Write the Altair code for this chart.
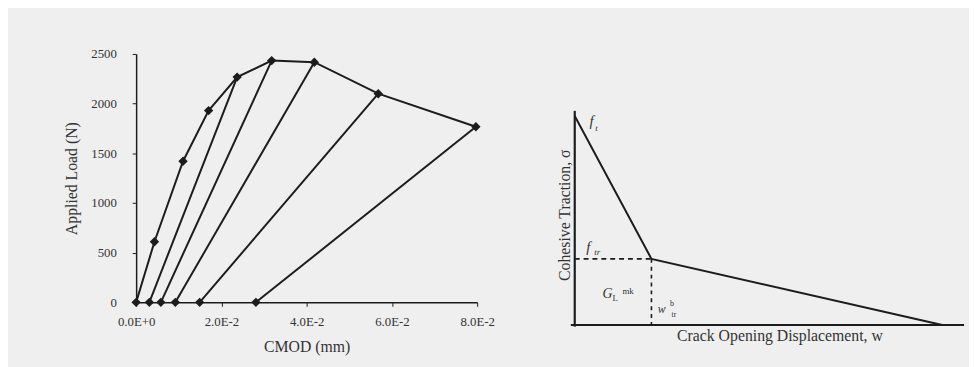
import altair as alt
import pandas as pd

# ---------------- data ----------------
env_cmod = [0.0, 0.0043, 0.011, 0.017, 0.0237, 0.0318, 0.0418, 0.0568, 0.0797]
env_load = [0, 610, 1420, 1930, 2267, 2433, 2417, 2100, 1767]
res_cmod = [0.0031, 0.0058, 0.0092, 0.0149, 0.0281]   # residual CMOD after unloading
unload_peak = [4, 5, 6, 7, 8]                          # envelope point each unloading line starts from
x_ticks = [0.0, 0.02, 0.04, 0.06, 0.08]
y_ticks = [0, 500, 1000, 1500, 2000, 2500]

# bilinear softening diagram (normalised units)
soft_w = [0.0, 0.197, 0.944]
soft_s = [0.771, 0.244, 0.0]
axis_y_w = [0.0, 0.0]
axis_y_s = [-0.006, 0.79]
axis_x_w = [-0.01, 1.0]
axis_x_s = [0.0, 0.0]

lab_text = ["f", "t", "f", "tr", "G", "L", "mk", "w", "b", "tr"]
lab_w = [0.043, 0.056, 0.035, 0.058, 0.084, 0.104, 0.137, 0.223, 0.25, 0.255]
lab_s = [0.753, 0.728, 0.287, 0.268, 0.116, 0.098, 0.127, 0.058, 0.077, 0.038]
lab_size = [15, 9, 15, 9, 14, 9, 9, 12, 8, 8]
lab_style = ["italic", "italic", "italic", "italic", "italic", "normal", "normal", "italic", "normal", "normal"]

y_title = "Cohesive Traction, σ"
x_title = "Crack Opening Displacement, w"

FONT = "Liberation Serif"
INK = "#1c1c1c"
TXT = "#333333"

# ---------------- left panel ----------------
env_df = pd.DataFrame({"cmod": env_cmod, "load": env_load, "o": list(range(len(env_cmod)))})
rows = []
for i, (r, p) in enumerate(zip(res_cmod, unload_peak)):
    rows.append({"seg": i, "cmod": r, "load": 0, "o": 0})
    rows.append({"seg": i, "cmod": env_cmod[p], "load": env_load[p], "o": 1})
unl_df = pd.DataFrame(rows)
pts_df = pd.DataFrame({"cmod": env_cmod + res_cmod, "load": env_load + [0] * len(res_cmod)})

xs = alt.Scale(domain=[0, 0.08], nice=False, zero=False)
ys = alt.Scale(domain=[0, 2500], nice=False)
xax = alt.Axis(values=x_ticks, grid=False, title="CMOD (mm)", labelFlush=False,
               labelExpr="replace(format(datum.value, '.1e'), 'e', 'E')",
               labelFont=FONT, labelFontSize=13, labelColor=TXT, labelPadding=9,
               titleFont=FONT, titleFontSize=16, titleFontWeight="normal", titleColor=TXT,
               titlePadding=11, domainColor=INK, domainWidth=1.5, tickColor=INK, tickSize=4)
yax = alt.Axis(values=y_ticks, grid=False, title="Applied Load (N)", format="d",
               labelFont=FONT, labelFontSize=13, labelColor=TXT, labelPadding=16,
               titleFont=FONT, titleFontSize=16, titleFontWeight="normal", titleColor=TXT,
               titlePadding=12, domainColor=INK, domainWidth=1.5, tickColor=INK, tickSize=4)

env_line = alt.Chart(env_df).mark_line(color=INK, strokeWidth=2).encode(
    x=alt.X("cmod:Q", scale=xs, axis=xax), y=alt.Y("load:Q", scale=ys, axis=yax), order="o:Q")
unl_line = alt.Chart(unl_df).mark_line(color=INK, strokeWidth=2).encode(
    x=alt.X("cmod:Q", scale=xs), y=alt.Y("load:Q", scale=ys), detail="seg:N", order="o:Q")
pts = alt.Chart(pts_df).mark_point(shape="diamond", filled=True, color=INK, size=90, opacity=1).encode(
    x=alt.X("cmod:Q", scale=xs), y=alt.Y("load:Q", scale=ys))

left = alt.layer(env_line, unl_line, pts).properties(width=346, height=252)

# ---------------- right panel ----------------
ws = alt.Scale(domain=[0, 1], nice=False, zero=False)
ss = alt.Scale(domain=[0, 1], nice=False, zero=False)

def line_df(w, s):
    return pd.DataFrame({"w": w, "s": s, "o": list(range(len(w)))})

def ln(df, **kw):
    return alt.Chart(df).mark_line(color=INK, **kw).encode(
        x=alt.X("w:Q", scale=ws, axis=None), y=alt.Y("s:Q", scale=ss, axis=None), order="o:Q")

knee_w, knee_s = soft_w[1], soft_s[1]
r_axes_y = ln(line_df(axis_y_w, axis_y_s), strokeWidth=2.2)
r_axes_x = ln(line_df(axis_x_w, axis_x_s), strokeWidth=2.2)
r_soft = ln(line_df(soft_w, soft_s), strokeWidth=2)
r_dash_h = ln(line_df([0.0, knee_w], [knee_s, knee_s]), strokeWidth=1.6, strokeDash=[5, 4])
r_dash_v = ln(line_df([knee_w, knee_w], [knee_s, 0.0]), strokeWidth=1.6, strokeDash=[4, 4])

lab_df = pd.DataFrame({"t": lab_text, "w": lab_w, "s": lab_s, "size": lab_size, "st": lab_style})
labs = []
for st in ["italic", "normal"]:
    for sz in sorted(set(lab_size)):
        sub = lab_df[(lab_df["st"] == st) & (lab_df["size"] == sz)]
        if len(sub) == 0:
            continue
        labs.append(alt.Chart(sub).mark_text(font=FONT, fontSize=sz, fontStyle=st, color=TXT,
                                             align="center", baseline="middle").encode(
            x=alt.X("w:Q", scale=ws, axis=None), y=alt.Y("s:Q", scale=ss, axis=None), text="t:N"))

ttl_df = pd.DataFrame({"t": [y_title], "w": [-0.024], "s": [0.405]})
ttl_y = alt.Chart(ttl_df).mark_text(font=FONT, fontSize=16, color=TXT, angle=270,
                                    align="center", baseline="middle").encode(
    x=alt.X("w:Q", scale=ws, axis=None), y=alt.Y("s:Q", scale=ss, axis=None), text="t:N")
ttlx_df = pd.DataFrame({"t": [x_title], "w": [0.527], "s": [-0.042]})
ttl_x = alt.Chart(ttlx_df).mark_text(font=FONT, fontSize=16, color=TXT,
                                     align="center", baseline="middle").encode(
    x=alt.X("w:Q", scale=ws, axis=None), y=alt.Y("s:Q", scale=ss, axis=None), text="t:N")

right = alt.layer(r_axes_y, r_axes_x, r_soft, r_dash_h, r_dash_v, *labs, ttl_y, ttl_x).properties(
    width=395, height=275)

chart = alt.hconcat(left, right, spacing=99).properties(
    bounds="flush",
    padding={"left": 56, "top": 38, "right": 0, "bottom": 12},
    background="#efefef",
).configure_view(stroke=None)

chart.save("out.html", embed_options={"renderer": "svg", "actions": False})
